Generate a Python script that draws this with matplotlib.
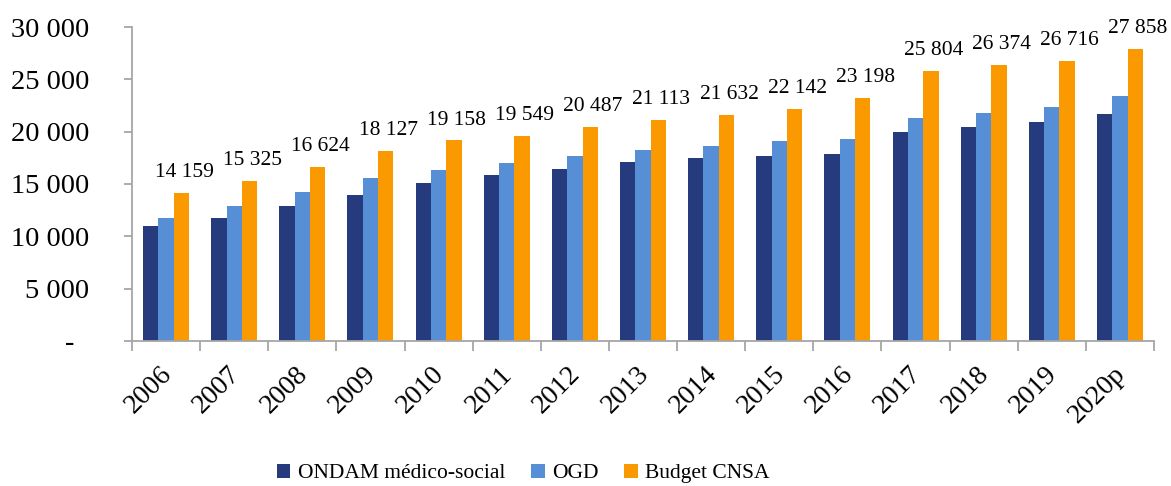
import numpy as np
import matplotlib.pyplot as plt
from matplotlib.ticker import FixedLocator
from matplotlib.transforms import ScaledTranslation

# Données (millions d'euros)
annees = ["2006", "2007", "2008", "2009", "2010", "2011", "2012", "2013",
          "2014", "2015", "2016", "2017", "2018", "2019", "2020p"]
ondam = [10960, 11780, 12870, 13980, 15130, 15860, 16460, 17100,
         17480, 17700, 17900, 19970, 20450, 20920, 21660]
ogd = [11780, 12900, 14270, 15570, 16370, 17040, 17670, 18250,
       18630, 19080, 19300, 21300, 21750, 22330, 23380]
budget_cnsa = [14159, 15325, 16624, 18127, 19158, 19549, 20487, 21113,
               21632, 22142, 23198, 25804, 26374, 26716, 27858]

plt.rcParams['font.family'] = ['Liberation Serif', 'DejaVu Serif']

fig = plt.figure(figsize=(11.71, 4.86), dpi=100)
ax = fig.add_axes([0.1127, 0.2984, 0.8728, 0.646])

x = np.arange(len(annees))
w = 0.225
gris = '#A6A6A6'

ax.bar(x - w, ondam, w, color='#253B7E', label='ONDAM médico-social')
ax.bar(x, ogd, w, color='#568FD6', label='OGD')
ax.bar(x + w, budget_cnsa, w, color='#FB9A00', label='Budget CNSA')

# étiquettes du budget CNSA
for xi, v in zip(x, budget_cnsa):
    ax.annotate(f"{v:,}".replace(",", " "), (xi + w + 0.04, v),
                xytext=(0, 11.5), textcoords='offset points',
                ha='center', va='baseline', fontsize=15.5)

ax.set_xlim(-0.5, len(annees) - 0.5)
ax.set_ylim(0, 30000)

yt = [0, 5000, 10000, 15000, 20000, 25000, 30000]
ax.set_yticks(yt)
ax.set_yticklabels(["-  "] + [f"{v:,}".replace(",", " ") for v in yt[1:]],
                   fontsize=20.5)
ax.tick_params(axis='y', length=6, width=1.3, color=gris, pad=25)

ax.set_xticks(x)
ax.set_xticklabels(annees, rotation=45, ha='right', rotation_mode='anchor',
                   fontsize=20)
ax.tick_params(axis='x', which='major', length=0, pad=12)
decal = ScaledTranslation(-0.07, -0.04, fig.dpi_scale_trans)
for lab in ax.get_xticklabels():
    lab.set_transform(lab.get_transform() + decal)
ax.xaxis.set_minor_locator(FixedLocator(np.arange(-0.5, len(annees), 1)))
ax.tick_params(axis='x', which='minor', length=7, width=1.3, color=gris)

for s in ['top', 'right']:
    ax.spines[s].set_visible(False)
for s in ['left', 'bottom']:
    ax.spines[s].set_color(gris)
    ax.spines[s].set_linewidth(1.3)

fig.legend(loc='center', bbox_to_anchor=(0.447, 0.026), ncol=3,
           frameon=False, fontsize=15.5, handlelength=0.62, handleheight=0.62,
           handletextpad=0.35, columnspacing=1.2, borderpad=0)

fig.savefig('out.png', dpi=100)
